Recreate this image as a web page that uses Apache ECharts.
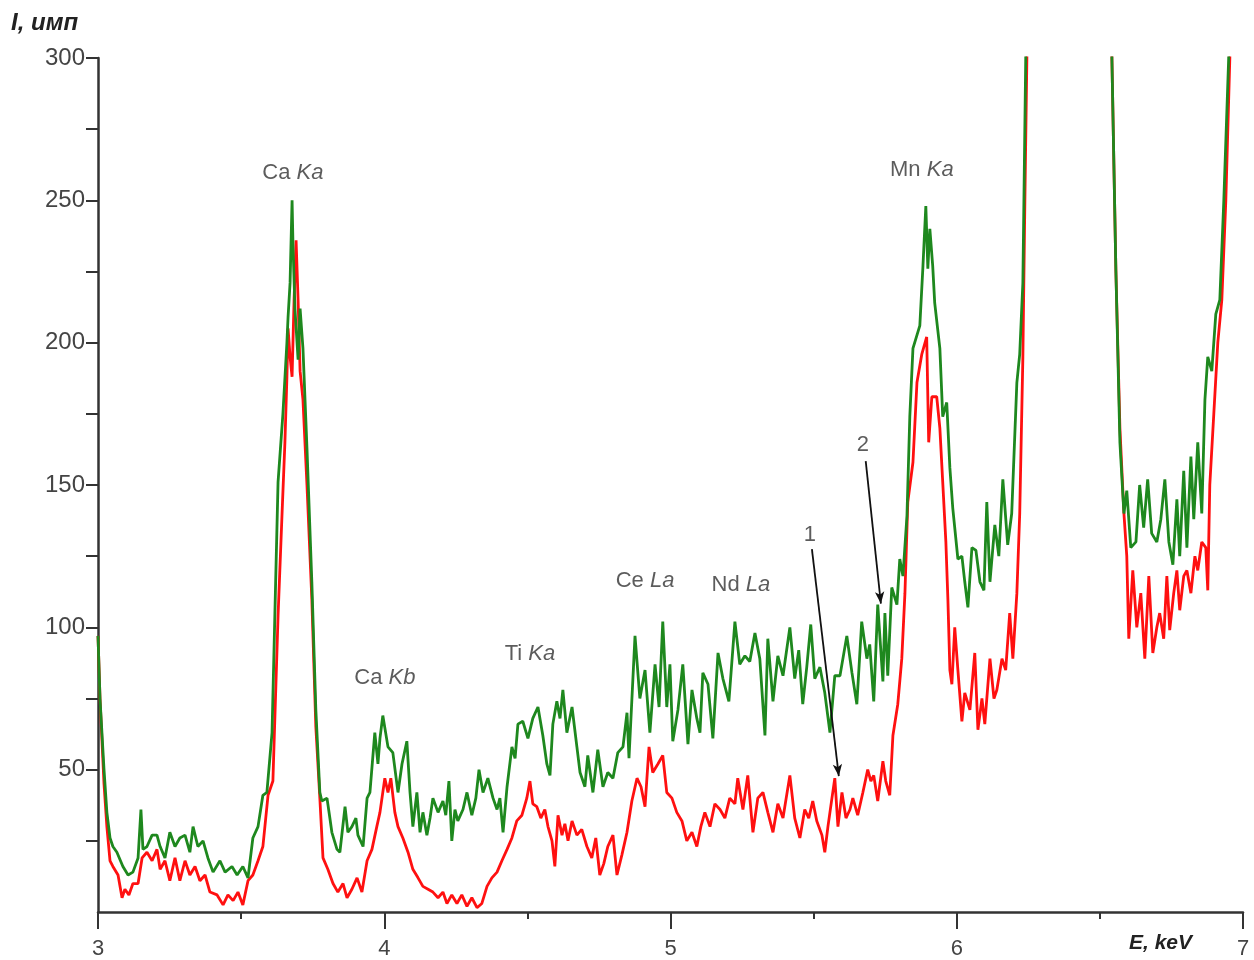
<!DOCTYPE html>
<html>
<head>
<meta charset="utf-8">
<script src="https://cdn.jsdelivr.net/npm/echarts@6/dist/echarts.min.js"></script>
<style>
html,body{margin:0;padding:0;background:#fff;}
#chart{width:1254px;height:960px;}
</style>
</head>
<body>
<div id="chart"></div>
<script>
// Energy (keV) and intensity (counts) readings, curve 2 (green)
const greenE = [3.000,3.007,3.021,3.031,3.042,3.052,3.066,3.087,3.105,3.122,3.140,3.150,3.157,3.171,3.189,3.206,3.217,3.234,3.251,3.269,3.286,3.304,3.321,3.332,3.349,3.367,3.384,3.402,3.426,3.444,3.468,3.486,3.506,3.524,3.541,3.559,3.576,3.590,3.608,3.618,3.629,3.646,3.660,3.664,3.671,3.678,3.681,3.688,3.699,3.706,3.716,3.730,3.747,3.761,3.775,3.782,3.800,3.810,3.817,3.835,3.845,3.863,3.873,3.887,3.901,3.908,3.926,3.940,3.950,3.967,3.978,3.985,3.995,4.013,4.030,4.048,4.062,4.079,4.090,4.100,4.114,4.125,4.135,4.149,4.160,4.170,4.188,4.205,4.215,4.226,4.236,4.247,4.257,4.275,4.289,4.306,4.320,4.331,4.345,4.362,4.380,4.394,4.404,4.415,4.429,4.446,4.457,4.467,4.484,4.502,4.519,4.537,4.554,4.568,4.579,4.589,4.603,4.614,4.624,4.638,4.656,4.673,4.684,4.701,4.711,4.729,4.746,4.764,4.781,4.799,4.816,4.834,4.848,4.855,4.876,4.893,4.911,4.928,4.946,4.960,4.973,4.987,4.998,5.008,5.026,5.043,5.061,5.075,5.092,5.103,5.113,5.131,5.148,5.166,5.183,5.204,5.225,5.242,5.260,5.277,5.295,5.312,5.330,5.340,5.358,5.375,5.393,5.417,5.434,5.448,5.462,5.476,5.490,5.504,5.522,5.539,5.557,5.574,5.592,5.616,5.634,5.651,5.668,5.686,5.696,5.710,5.724,5.742,5.749,5.759,5.773,5.791,5.801,5.812,5.826,5.836,5.847,5.871,5.882,5.892,5.899,5.906,5.916,5.923,5.941,5.951,5.965,5.976,5.986,6.004,6.018,6.028,6.039,6.053,6.067,6.081,6.095,6.105,6.116,6.133,6.147,6.161,6.178,6.192,6.210,6.220,6.231,6.241,6.255,6.400,6.528,6.542,6.556,6.570,6.584,6.594,6.608,6.626,6.639,6.653,6.667,6.681,6.699,6.713,6.727,6.741,6.755,6.769,6.779,6.793,6.804,6.818,6.828,6.842,6.856,6.867,6.877,6.891,6.905,6.919,6.933,6.950,6.964];
const greenI = [97,75,50,35,26,23,21,16,13,14,19,36,22,23,27,27,23,19,28,23,26,27,21,30,23,25,19,14,18,14,16,13,16,12,26,30,41,42,63,105,151,175,200,209,221,250,235,212,194,212,198,163,116,71,42,39,40,33,28,22,21,37,28,30,33,27,23,40,42,63,52,61,69,58,56,42,52,60,42,30,42,28,35,27,33,40,35,39,34,46,25,36,32,36,42,34,40,50,42,47,40,36,40,28,44,58,54,66,67,61,68,72,62,52,48,66,74,68,78,63,72,58,49,44,55,42,57,44,49,47,56,58,70,54,97,75,85,63,87,72,102,72,87,60,71,87,59,78,68,63,84,80,61,91,82,74,102,87,90,88,98,89,62,96,74,90,83,100,82,92,73,86,101,82,86,77,63,83,83,97,84,73,102,89,94,74,108,81,105,83,114,108,124,118,139,174,198,206,227,248,226,240,227,214,198,174,179,156,142,124,125,116,107,128,127,116,113,144,116,136,125,152,129,140,186,196,221,300,1200,2500,1200,300,225,165,140,148,128,130,150,135,152,133,130,138,152,130,122,145,125,155,128,160,138,165,140,180,195,190,210,215,250,300,1200];

// curve 1 (red)
const redE = [3.000,3.007,3.021,3.031,3.042,3.052,3.070,3.084,3.094,3.108,3.122,3.140,3.154,3.171,3.189,3.206,3.217,3.234,3.251,3.269,3.286,3.304,3.321,3.339,3.356,3.374,3.391,3.416,3.437,3.454,3.472,3.489,3.506,3.524,3.541,3.559,3.576,3.594,3.611,3.629,3.643,3.653,3.660,3.664,3.671,3.678,3.685,3.692,3.699,3.706,3.716,3.730,3.747,3.761,3.775,3.786,3.803,3.821,3.838,3.856,3.870,3.887,3.905,3.922,3.940,3.957,3.974,3.985,4.002,4.013,4.023,4.037,4.048,4.065,4.083,4.100,4.118,4.135,4.153,4.170,4.188,4.205,4.219,4.236,4.254,4.271,4.289,4.306,4.324,4.341,4.359,4.376,4.394,4.411,4.429,4.446,4.463,4.481,4.498,4.509,4.519,4.533,4.547,4.561,4.572,4.586,4.596,4.607,4.621,4.631,4.642,4.656,4.673,4.690,4.708,4.725,4.739,4.753,4.767,4.781,4.799,4.813,4.830,4.848,4.865,4.883,4.897,4.911,4.925,4.938,4.956,4.973,4.987,5.005,5.022,5.040,5.057,5.075,5.092,5.106,5.120,5.138,5.155,5.173,5.190,5.207,5.225,5.235,5.253,5.270,5.288,5.305,5.323,5.340,5.358,5.375,5.393,5.417,5.434,5.452,5.469,5.483,5.497,5.511,5.529,5.539,5.550,5.564,5.574,5.585,5.599,5.613,5.627,5.637,5.654,5.672,5.689,5.700,5.710,5.724,5.742,5.752,5.766,5.777,5.794,5.808,5.819,5.829,5.847,5.861,5.878,5.895,5.902,5.913,5.930,5.941,5.951,5.962,5.969,5.976,5.983,5.993,6.004,6.018,6.028,6.046,6.063,6.074,6.088,6.098,6.116,6.130,6.140,6.158,6.171,6.185,6.196,6.210,6.220,6.231,6.238,6.245,6.259,6.400,6.528,6.542,6.556,6.570,6.584,6.594,6.601,6.615,6.629,6.643,6.657,6.671,6.685,6.699,6.709,6.723,6.734,6.744,6.758,6.769,6.779,6.793,6.804,6.818,6.832,6.842,6.856,6.870,6.877,6.884,6.898,6.912,6.926,6.940,6.954,6.968];
const redI = [97,75,45,30,18,16,13,5,8,6,10,10,19,21,18,22,15,18,11,19,11,18,13,16,11,13,7,6,2.5,6,4,7,2.5,11,13,18,23,41,46,104,140,165,188,205,195,188,215,236,215,190,180,150,110,65,40,19,15,10,7,10,5,8,12,7,18,22,30,35,47,42,47,35,30,26,21,15,12,9,8,7,5,7,3,6,3,6,2,5,1.5,3,9,12,14,18,22,26,32,34,40,46,38,37,33,36,30,25,16,34,27,31,25,32,27,29,23,19,26,13,17,23,27,13,20,28,39,47,44,37,58,49,52,55,42,40,35,32,25,28,23,30,35,30,38,36,33,40,38,47,36,48,28,40,42,35,28,38,33,48,33,26,36,33,39,32,27,21,30,40,47,30,42,33,36,40,34,42,50,46,48,39,53,46,41,62,73,89,112,144,158,186,196,202,165,181,181,170,151,130,110,85,80,100,85,67,77,71,91,64,75,66,89,75,78,89,85,105,89,112,140,195,250,300,1200,2500,1200,300,225,170,140,125,96,120,100,112,89,118,91,100,105,96,118,99,112,120,106,118,120,112,125,120,130,128,113,150,175,200,215,250,300,1200];

// Peak labels: element, line, anchor energy (keV), anchor intensity
const peakEl   = ['Ca', 'Ca', 'Ti', 'Ce', 'Nd', 'Mn'];
const peakLine = ['Ka', 'Kb', 'Ka', 'La', 'La', 'Ka'];
const peakE    = [3.681, 4.002, 4.509, 4.911, 5.246, 5.878];
const peakI    = [259.6, 82.3, 90.8, 116.3, 114.9, 260.7];

// Curve number labels and arrows
const curveTag = ['1', '2'];
const tagE = [5.487, 5.672];
const tagI = [132.4, 164.0];
const arrowFromE = [5.494, 5.682];
const arrowFromI = [127.5, 158.4];
const arrowToE = [5.588, 5.735];
const arrowToI = [47.7, 108.3];

const yTickValues  = [25, 50, 75, 100, 125, 150, 175, 200, 225, 250, 275, 300];
const yLabelValues = [50, 100, 150, 200, 250, 300];
const xLabelValues = [3, 4, 5, 6, 7];

const FONT = 'Liberation Sans, Arial, sans-serif';
const chart = echarts.init(document.getElementById('chart'), null, {renderer: 'canvas'});

const toPairs = (E, I) => E.map((e, k) => [e, I[k]]);

const labelPoints = peakE.map((e, k) => ({value: [e, peakI[k]], el: peakEl[k], ln: peakLine[k]}));
const tagPoints = tagE.map((e, k) => ({value: [e, tagI[k]], el: curveTag[k], ln: ''}));
const arrows = arrowFromE.map((e, k) => [{coord: [e, arrowFromI[k]]}, {coord: [arrowToE[k], arrowToI[k]]}]);

const option = {
  animation: false,
  backgroundColor: '#ffffff',
  grid: {left: 98, right: 11, top: 58, bottom: 48, containLabel: false},
  xAxis: {
    type: 'value', min: 3, max: 7, interval: 1,
    axisLine: {show: true, onZero: false, lineStyle: {color: '#333', width: 2.5}},
    axisTick: {show: true, inside: false, length: 17, lineStyle: {color: '#333', width: 2}},
    minorTick: {show: true, splitNumber: 2, length: 7, lineStyle: {color: '#333', width: 2}},
    splitLine: {show: false},
    minorSplitLine: {show: false},
    axisLabel: {fontFamily: FONT, fontSize: 22, color: '#444', margin: 26, customValues: xLabelValues}
  },
  yAxis: {
    type: 'value', min: 0, max: 300, interval: 25,
    axisLine: {show: true, onZero: false, lineStyle: {color: '#333', width: 2.5}},
    axisTick: {show: true, inside: false, length: 12, lineStyle: {color: '#333', width: 2}, customValues: yTickValues},
    splitLine: {show: false},
    axisLabel: {fontFamily: FONT, fontSize: 24, color: '#444', margin: 13, customValues: yLabelValues}
  },
  series: [
    {
      name: '1', type: 'line', data: toPairs(redE, redI),
      showSymbol: false, symbol: 'none', clip: true,
      lineStyle: {color: '#ff1010', width: 2.8}, z: 2
    },
    {
      name: '2', type: 'line', data: toPairs(greenE, greenI),
      showSymbol: false, symbol: 'none', clip: true,
      lineStyle: {color: '#1e881e', width: 2.8}, z: 3,
      markLine: {
        silent: true, animation: false,
        symbol: ['none', 'arrow'], symbolSize: [7, 12],
        lineStyle: {color: '#111', width: 1.8, type: 'solid'},
        label: {show: false},
        data: arrows
      }
    },
    {
      type: 'scatter', data: labelPoints.concat(tagPoints),
      symbolSize: 0, silent: true, z: 5,
      label: {
        show: true, position: 'inside',
        fontFamily: FONT, fontSize: 22, color: '#333',
        formatter: p => p.data.ln ? (p.data.el + ' {i|' + p.data.ln + '}') : p.data.el,
        rich: {i: {fontFamily: FONT, fontSize: 22, fontStyle: 'italic', color: '#333'}}
      }
    }
  ],
  graphic: [
    {type: 'text', left: 11, top: 11,
     style: {text: 'I, имп', font: 'italic bold 24px ' + FONT, fill: '#222'}},
    {type: 'text', left: 1129, top: 933,
     style: {text: 'E, keV', font: 'italic bold 21px ' + FONT, fill: '#222'}}
  ]
};
chart.setOption(option);
</script>
</body>
</html>
